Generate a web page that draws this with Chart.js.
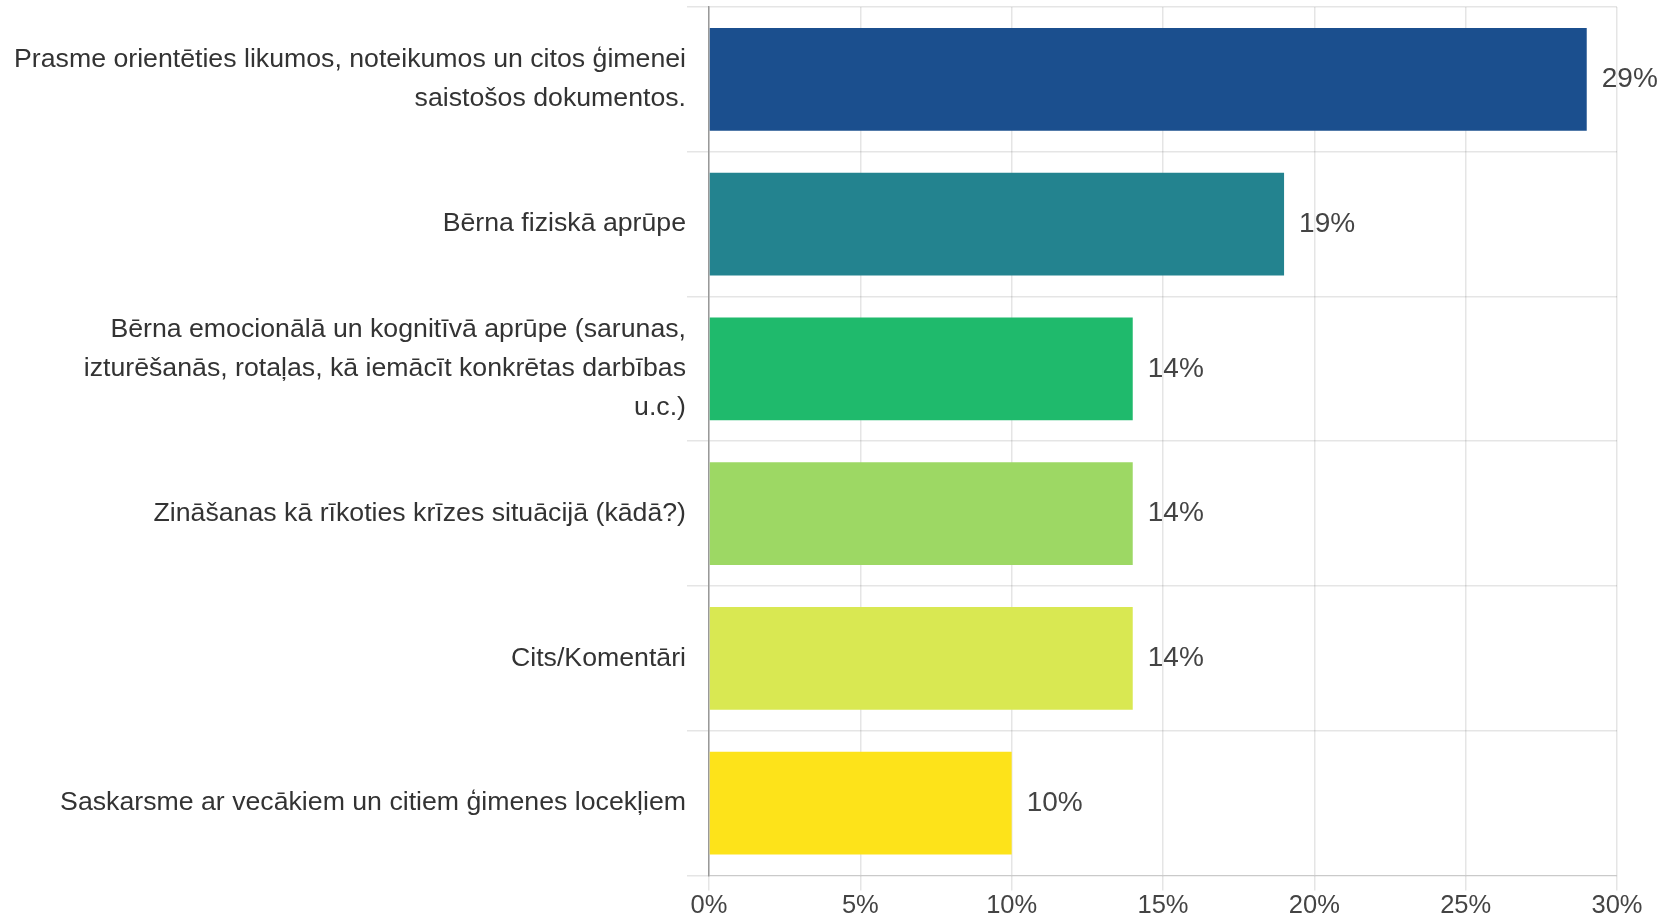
<!DOCTYPE html>
<html>
<head>
<meta charset="utf-8">
<script src="https://cdn.jsdelivr.net/npm/chart.js@4/dist/chart.umd.min.js"></script>
<style>
  html, body { margin: 0; padding: 0; background: #fff; }
  #wrap { width: 1666px; height: 921px; }
</style>
</head>
<body>
<div id="wrap"><canvas id="chart"></canvas></div>
<script>
// category labels (already wrapped into lines like the original)
const categories = [
    ['Prasme orientēties likumos, noteikumos un citos ģimenei', 'saistošos dokumentos.'],
    'Bērna fiziskā aprūpe',
    ['Bērna emocionālā un kognitīvā aprūpe (sarunas,', 'izturēšanās, rotaļas, kā iemācīt konkrētas darbības', 'u.c.)'],
    'Zināšanas kā rīkoties krīzes situācijā (kādā?)',
    'Cits/Komentāri',
    'Saskarsme ar vecākiem un citiem ģimenes locekļiem'
];
const percentValues = [29, 19, 14, 14, 14, 10];
const barColors = ['#1b4f8e', '#23838f', '#1fba6c', '#9dd864', '#d9e852', '#fde31a'];
const xTicks = [0, 5, 10, 15, 20, 25, 30];

const FONT = '"Liberation Sans", Arial, sans-serif';

// draws the "29%" style labels next to each bar
const valueLabels = {
    id: 'valueLabels',
    afterDatasetsDraw(chart) {
        const ctx = chart.ctx;
        const meta = chart.getDatasetMeta(0);
        ctx.save();
        ctx.font = '28px ' + FONT;
        ctx.fillStyle = '#444';
        ctx.textAlign = 'left';
        ctx.textBaseline = 'middle';
        meta.data.forEach((bar, i) => {
            ctx.fillText(percentValues[i] + '%', bar.x + 15, bar.y);
        });
        ctx.restore();
    }
};

new Chart(document.getElementById('chart'), {
    type: 'bar',
    data: {
        labels: categories,
        datasets: [{
            data: percentValues,
            backgroundColor: barColors,
            borderWidth: 0,
            categoryPercentage: 1,
            barPercentage: 0.71
        }]
    },
    options: {
        indexAxis: 'y',
        responsive: true,
        maintainAspectRatio: false,
        animation: false,
        layout: { padding: { top: 7, right: 49, bottom: 0, left: 0 } },
        plugins: {
            legend: { display: false },
            tooltip: { enabled: false }
        },
        scales: {
            x: {
                min: 0,
                max: 30,
                afterBuildTicks: (scale) => { scale.ticks = xTicks.map(v => ({ value: v })); },
                grid: { color: 'rgba(0,0,0,0.1)', tickLength: 15, lineWidth: 1.5 },
                border: { color: 'rgba(0,0,0,0.12)' },
                ticks: {
                    color: '#444',
                    font: { family: FONT, size: 25.5 },
                    padding: 0,
                    maxRotation: 0,
                    callback: (v) => v + '%'
                }
            },
            y: {
                afterFit: (scale) => {
                    scale.width = 709;
                    scale.paddingTop = 0;
                    scale.paddingBottom = 0;
                },
                grid: { color: 'rgba(0,0,0,0.1)', tickLength: 22, lineWidth: 1.5 },
                border: { color: '#999', width: 1.5 },
                ticks: {
                    color: '#333',
                    padding: 1,
                    font: { family: FONT, size: 26.7, lineHeight: 1.46 }
                }
            }
        }
    },
    plugins: [valueLabels]
});
</script>
</body>
</html>
